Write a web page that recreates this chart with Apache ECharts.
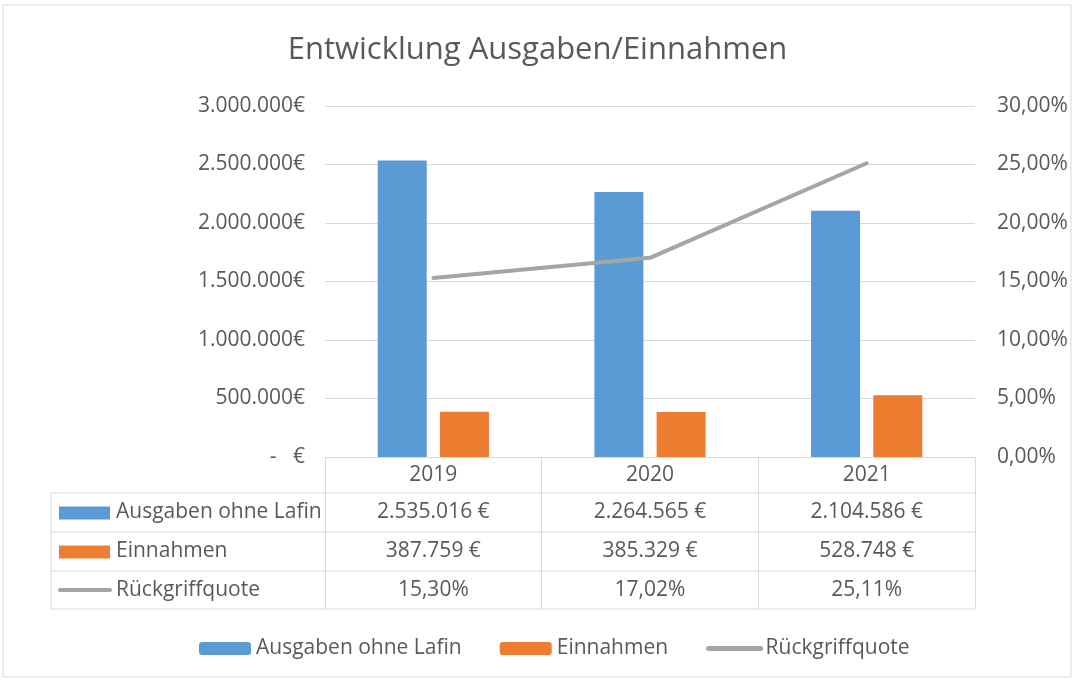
<!DOCTYPE html>
<html>
<head>
<meta charset="utf-8">
<script src="https://cdn.jsdelivr.net/npm/echarts@6/dist/echarts.min.js"></script>
<style>
  html, body { margin: 0; padding: 0; background: #fff; }
  #main { width: 1075px; height: 680px; }
</style>
</head>
<body>
<div id="main"></div>
<script>
// Daten
var years = ["2019", "2020", "2021"];
var ausgaben = [2535016, 2264565, 2104586];
var einnahmen = [387759, 385329, 528748];
var quote = [15.30, 17.02, 25.11]; // in Prozent
var seriesNames = ["Ausgaben ohne Lafin", "Einnahmen", "Rückgriffquote"];

var FONT = "Open Sans";
var FS = 21;
var TXT = "#595959";
var GRID = "#d9d9d9";
var colors = ["#5b9bd5", "#ed7d31", "#a5a5a5"];

function fmtEuro(v, space) {
  if (v === 0) return "-   €";
  return String(Math.round(v)).replace(/\B(?=(\d{3})+(?!\d))/g, ".") + (space ? " €" : "€");
}
function fmtPct(v) {
  return v.toFixed(2).replace(".", ",") + "%";
}

var myChart = echarts.init(document.getElementById("main"));

var option = {
  animation: false,
  textStyle: { fontFamily: FONT },
  title: {
    text: "Entwicklung Ausgaben/Einnahmen",
    left: "center",
    top: 30,
    textStyle: { fontFamily: FONT, fontSize: 31, fontWeight: "normal", color: TXT }
  },
  legend: {
    left: 194,
    top: 633,
    itemWidth: 52,
    itemHeight: 13,
    itemGap: 38,
    textStyle: { fontFamily: FONT, fontSize: FS, color: TXT },
    data: [
      { name: seriesNames[0] },
      { name: seriesNames[1] },
      {
        name: seriesNames[2],
        itemStyle: { color: "rgba(0,0,0,0)", borderWidth: 0, opacity: 0 },
        lineStyle: { color: colors[2], width: 5, cap: "round" }
      }
    ]
  },
  grid: { left: 325, right: 100, top: 106, bottom: 223 },
  xAxis: {
    type: "category",
    data: years,
    axisLine: { lineStyle: { color: GRID, width: 1 } },
    axisTick: { show: true, interval: 0, length: 152, lineStyle: { color: GRID } },
    axisLabel: { margin: 8, fontSize: FS, color: TXT, fontFamily: FONT }
  },
  yAxis: [
    {
      type: "value",
      min: 0,
      max: 3000000,
      interval: 500000,
      axisLabel: { margin: 20, fontSize: FS, color: TXT, fontFamily: FONT, formatter: function (v) { return fmtEuro(v, false); } },
      splitLine: { lineStyle: { color: GRID } },
      axisLine: { show: false },
      axisTick: { show: false }
    },
    {
      type: "value",
      min: 0,
      max: 30,
      interval: 5,
      axisLabel: { margin: 22, fontSize: FS, color: TXT, fontFamily: FONT, formatter: fmtPct },
      splitLine: { show: false },
      axisLine: { show: false },
      axisTick: { show: false }
    }
  ],
  series: [
    {
      name: seriesNames[0],
      type: "bar",
      data: ausgaben,
      barWidth: 49,
      barGap: "27%",
      itemStyle: { color: colors[0] }
    },
    {
      name: seriesNames[1],
      type: "bar",
      data: einnahmen,
      barWidth: 49,
      itemStyle: { color: colors[1] }
    },
    {
      name: seriesNames[2],
      type: "line",
      yAxisIndex: 1,
      data: quote,
      symbol: "none",
      lineStyle: { color: colors[2], width: 4, cap: "round" },
      itemStyle: { color: colors[2] }
    }
  ]
};

myChart.setOption(option);

// Datentabelle unter der Achse
var tblLeft = 51, tblRight = 975;
var rowY = [493, 532, 571, 609];
var g = [];
// Rahmen um das Diagramm
g.push({ type: "rect", shape: { x: 3, y: 5, width: 1068, height: 672 }, style: { fill: "none", stroke: GRID, lineWidth: 1 }, silent: true });
rowY.forEach(function (y) {
  g.push({ type: "line", shape: { x1: tblLeft, y1: y, x2: tblRight, y2: y }, style: { stroke: GRID, lineWidth: 1 }, silent: true });
});
g.push({ type: "line", shape: { x1: tblLeft, y1: rowY[0], x2: tblLeft, y2: rowY[3] }, style: { stroke: GRID, lineWidth: 1 }, silent: true });

var rows = [
  { vals: ausgaben.map(function (v) { return fmtEuro(v, true); }) },
  { vals: einnahmen.map(function (v) { return fmtEuro(v, true); }) },
  { vals: quote.map(fmtPct) }
];
rows.forEach(function (r, i) {
  var cy = (rowY[i] + rowY[i + 1]) / 2;
  if (i < 2) {
    g.push({ type: "rect", shape: { x: 59, y: cy - 6, width: 51, height: 13 }, style: { fill: colors[i] }, silent: true });
  } else {
    g.push({ type: "line", shape: { x1: 60, y1: cy, x2: 110, y2: cy }, style: { stroke: colors[2], lineWidth: 4, lineCap: "round" }, silent: true });
  }
  g.push({ type: "text", x: 116, y: cy, style: { text: seriesNames[i], fill: TXT, font: FS + "px '" + FONT + "'", textVerticalAlign: "middle" }, silent: true });
  years.forEach(function (yr, j) {
    var cx = myChart.convertToPixel({ xAxisIndex: 0 }, yr);
    g.push({ type: "text", x: cx, y: cy, style: { text: r.vals[j], fill: TXT, font: FS + "px '" + FONT + "'", textAlign: "center", textVerticalAlign: "middle" }, silent: true });
  });
});

myChart.setOption({ graphic: g });
</script>
</body>
</html>
